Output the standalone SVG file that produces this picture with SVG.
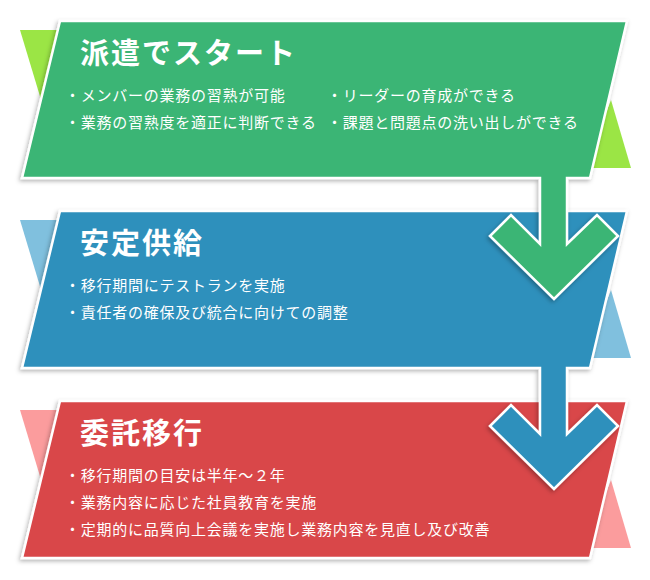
<svg xmlns="http://www.w3.org/2000/svg" width="650" height="580" viewBox="0 0 650 580">
<defs>
<filter id="sh" x="-10%" y="-10%" width="120%" height="130%">
<feDropShadow dx="-1.5" dy="2" stdDeviation="2" flood-color="#000" flood-opacity="0.3"/>
</filter>
<style>
.panel{stroke:#fff;stroke-width:2.5;stroke-linejoin:miter;filter:url(#sh)}
.title{font-family:"Noto Sans CJK JP","Noto Sans",sans-serif;font-weight:bold;font-size:29px;letter-spacing:2px;fill:#fff}
.item{font-family:"Noto Sans CJK JP","Noto Sans",sans-serif;font-size:15px;letter-spacing:0.75px;fill:#fff}
</style>
</defs>
<rect width="650" height="580" fill="#fff"/>

<g id="step3" transform="translate(0,380)">
<polygon points="20,30 72,30 42,103" fill="#fb9c9d"/>
<polygon points="611,100 631,168 585,168" fill="#fb9c9d"/>
<path class="panel" fill="#d9474a" d="M60,21 L627,21 L590,178 L22,178 Z"/>
<text class="title" x="80" y="64">委託移行</text>
<text class="item" x="65" y="101">・移行期間の目安は半年～２年</text>
<text class="item" x="65" y="128">・業務内容に応じた社員教育を実施</text>
<text class="item" x="65" y="155">・定期的に品質向上会議を実施し業務内容を見直し及び改善</text>
</g>

<g id="step2-back" transform="translate(0,190)">
<polygon points="20,30 72,30 42,103" fill="#80c0de"/>
<polygon points="611,100 631,168 585,168" fill="#80c0de"/>
</g>

<g id="connectors">
<g id="arrow2" transform="translate(0,190)">
<path class="panel" fill="#2f90bc" d="M60,21 L627,21 L590,178 L567,178 L567,244 L597,215 L618,236 L554,299 L490,236 L511,215 L540,244 L540,178 L22,178 Z"/>
</g>
</g>

<g id="step2" transform="translate(0,190)">
<text class="title" x="80" y="64">安定供給</text>
<text class="item" x="65" y="101">・移行期間にテストランを実施</text>
<text class="item" x="65" y="128">・責任者の確保及び統合に向けての調整</text>
</g>

<g id="step1">
<polygon points="20,30 72,30 42,103" fill="#9be545"/>
<polygon points="611,100 631,168 585,168" fill="#9be545"/>
<path class="panel" fill="#3ab574" d="M60,21 L627,21 L590,178 L567,178 L567,244 L597,215 L618,236 L554,299 L490,236 L511,215 L540,244 L540,178 L22,178 Z"/>
<text class="title" x="80" y="64">派遣でスタート</text>
<text class="item" x="65" y="101">・メンバーの業務の習熟が可能</text>
<text class="item" x="65" y="128">・業務の習熟度を適正に判断できる</text>
<text class="item" x="327" y="101">・リーダーの育成ができる</text>
<text class="item" x="327" y="128">・課題と問題点の洗い出しができる</text>
</g>
</svg>
